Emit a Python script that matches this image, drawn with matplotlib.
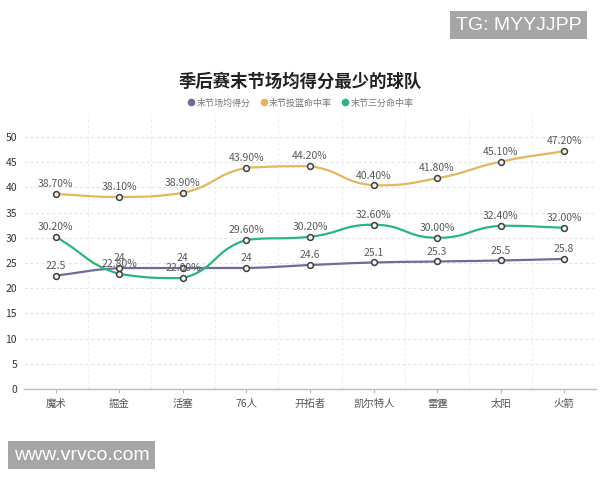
import numpy as np
import matplotlib
matplotlib.use("Agg")
import matplotlib.pyplot as plt
from matplotlib.lines import Line2D

plt.rcParams['font.family'] = ['Noto Sans CJK SC', 'DejaVu Sans']

teams = ["魔术", "掘金", "活塞", "76人", "开拓者", "凯尔特人", "雷霆", "太阳", "火箭"]
avg_pts = [22.5, 24, 24, 24, 24.6, 25.1, 25.3, 25.5, 25.8]
fg_pct = [38.7, 38.1, 38.9, 43.9, 44.2, 40.4, 41.8, 45.1, 47.2]
tp_pct = [30.2, 22.8, 22.0, 29.6, 30.2, 32.6, 30.0, 32.4, 32.0]

series_names = ["末节场均得分", "末节投篮命中率", "末节三分命中率"]
colors = ["#6e6c99", "#e3b65f", "#2db57f"]

title = "季后赛末节场均得分最少的球队"
yticks = [0, 5, 10, 15, 20, 25, 30, 35, 40, 45, 50]

fig = plt.figure(figsize=(6, 4.8), dpi=100)
ax = fig.add_axes([24/600, 1-389/480, 572/600, (389-115)/480])

ymax = 50 * (389-115) / (389-137)
ax.set_xlim(-0.5, len(teams)-0.5)
ax.set_ylim(0, ymax)

sx, sy = 572/len(teams), (389-115)/ymax  # px per data unit


def smooth_curve(xs, ys, smooth=0.5, n=30):
    xs = np.asarray(xs, float); ys = np.asarray(ys, float)
    m = len(xs)
    cps = []
    for i in range(m):
        x, y = xs[i], ys[i]
        px, py = (xs[i-1], ys[i-1]) if i > 0 else (x, y)
        nx, ny = (xs[i+1], ys[i+1]) if i < m-1 else (x, y)
        dx, dy = nx-px, ny-py
        l0 = np.hypot((x-px)*sx, (y-py)*sy)
        l1 = np.hypot((nx-x)*sx, (ny-y)*sy)
        r = l1/(l0+l1) if (l0+l1) > 0 else 0.5
        cin = [x - dx*smooth*(1-r), y - dy*smooth*(1-r)]
        cout = [x + dx*smooth*r, y + dy*smooth*r]
        cin[1] = min(max(cin[1], min(py, y)), max(py, y))
        cout[1] = min(max(cout[1], min(ny, y)), max(ny, y))
        cps.append((cin, cout))
    X, Y = [], []
    t = np.linspace(0, 1, n)
    for i in range(m-1):
        p0 = np.array([xs[i], ys[i]]); p3 = np.array([xs[i+1], ys[i+1]])
        p1 = np.array(cps[i][1]); p2 = np.array(cps[i+1][0])
        pts = ((1-t)**3)[:, None]*p0 + (3*(1-t)**2*t)[:, None]*p1 + (3*(1-t)*t**2)[:, None]*p2 + (t**3)[:, None]*p3
        X.extend(pts[:, 0]); Y.extend(pts[:, 1])
    return X, Y

x = np.arange(len(teams))
data = [avg_pts, fg_pct, tp_pct]
labels_fmt = [lambda v: f"{v:g}", lambda v: f"{v:.2f}%", lambda v: f"{v:.2f}%"]
for vals, c, fmt in zip(data, colors, labels_fmt):
    X, Y = smooth_curve(x, vals)
    ax.plot(X, Y, color=c, lw=1.6, zorder=3, solid_capstyle='round')
    ax.plot(x, vals, 'o', ms=4.2, mfc='#f4f4ee', mec='#3f3f3f', mew=1.1, zorder=4, ls='none')
    for xi, v in zip(x, vals):
        ax.annotate(fmt(v), (xi, v), xytext=(0, 3.5), textcoords='offset points',
                    ha='center', va='bottom', fontsize=7.5, color='#5a5a5a', zorder=5)

# grid
for yt in yticks[1:]:
    ax.axhline(yt, color='#e6e6e6', lw=0.8, ls=(0, (3, 2)), zorder=1)
for k in range(1, len(teams)):
    ax.axvline(k-0.5, color='#efefef', lw=0.8, ls=(0, (3, 2)), zorder=1)

ax.set_yticks(yticks)
ax.set_yticklabels([str(v) for v in yticks])
ax.set_xticks(x)
ax.set_xticklabels(teams)
ax.tick_params(axis='y', length=0, labelsize=7.5, labelcolor='#333333', pad=5)
ax.tick_params(axis='x', length=3, color='#bbbbbb', labelsize=7.5, labelcolor='#555555', pad=4)
for s in ['top', 'right', 'left']:
    ax.spines[s].set_visible(False)
ax.spines['bottom'].set_color('#bbbbbb')
ax.spines['bottom'].set_linewidth(1)

fig.text(0.5, 1-82/480, title, ha='center', va='center', fontsize=12.5, fontweight='bold', color='#222222')

handles = [Line2D([], [], marker='o', ls='none', ms=4.5, mfc=c, mec=c) for c in colors]
fig.legend(handles, series_names, loc='center', bbox_to_anchor=(0.5, 1-103/480), ncol=3,
           frameon=False, fontsize=6.5, labelcolor='#777777', handletextpad=0.05,
           columnspacing=1.0, handlelength=1.0)

wm_font = ['Liberation Sans', 'DejaVu Sans']
fig.text(456/600, 1-25/480, "TG: MYYJJPP", ha='left', va='center', fontsize=14, color='white',
         family=wm_font, bbox=dict(boxstyle='square,pad=0.3', fc='#a6a6a6', ec='none'))
fig.text(14/600, 1-455/480, "www.vrvco.com", ha='left', va='center', fontsize=14, color='white',
         family=wm_font, bbox=dict(boxstyle='square,pad=0.3', fc='#a6a6a6', ec='none'))

fig.savefig("out.png", dpi=100, facecolor='white')
